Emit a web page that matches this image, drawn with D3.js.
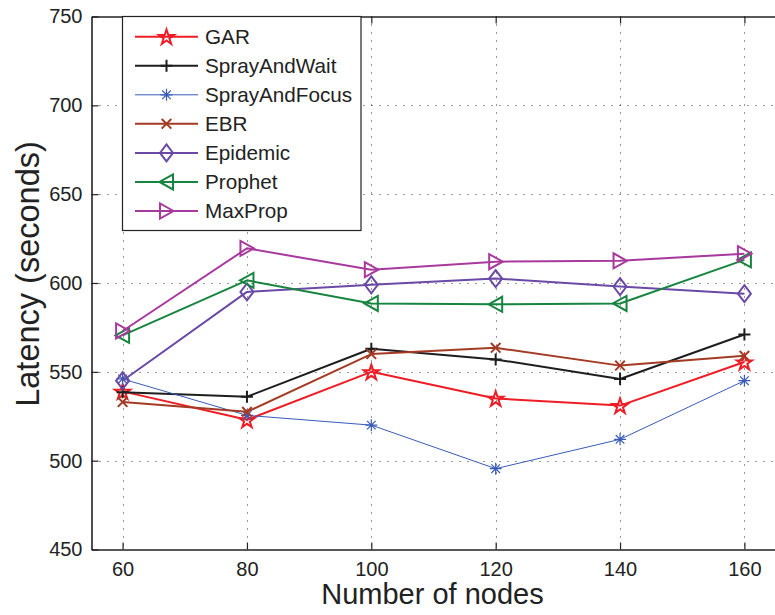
<!DOCTYPE html>
<html>
<head>
<meta charset="utf-8">
<script src="https://cdn.jsdelivr.net/npm/d3@7/dist/d3.min.js"></script>
<style>
  html, body { margin: 0; padding: 0; background: #fff; }
  svg { display: block; font-family: "Liberation Sans", Arial, Helvetica, sans-serif; }
</style>
</head>
<body>
<svg id="chart" width="775" height="615"></svg>
<script>
// Number of nodes on the x axis
const nodes = [60, 80, 100, 120, 140, 160];

// Latency (seconds) per routing protocol
const gar           = [539, 523, 550, 535, 531, 555.5];
const sprayAndWait  = [538.5, 536, 563, 557, 546, 571];
const sprayAndFocus = [546, 525.5, 520, 495.5, 512, 545];
const ebr           = [533, 527.5, 560, 563.5, 553.5, 559];
const epidemic      = [545, 595, 599, 602.5, 598, 594];
const prophet       = [570.5, 601.5, 588.5, 588, 588.5, 613];
const maxProp       = [573, 619.5, 607.5, 612, 612.5, 616.5];

const seriesNames = ["GAR", "SprayAndWait", "SprayAndFocus", "EBR", "Epidemic", "Prophet", "MaxProp"];
const seriesValues = [gar, sprayAndWait, sprayAndFocus, ebr, epidemic, prophet, maxProp];

const xTicks = [60, 80, 100, 120, 140, 160];
const yTicks = [450, 500, 550, 600, 650, 700, 750];

const styles = [
  { color: "#ee1c24", width: 2, marker: "star" },
  { color: "#1e1e1e", width: 2, marker: "plus" },
  { color: "#3a5cb8", width: 1, marker: "asterisk" },
  { color: "#a33b24", width: 2, marker: "cross" },
  { color: "#6a4aa6", width: 2, marker: "diamond" },
  { color: "#17853f", width: 2, marker: "triLeft" },
  { color: "#a83a9e", width: 2, marker: "triRight" }
];

const series = seriesNames.map((name, i) => ({
  name,
  values: nodes.map((n, j) => ({ x: n, y: seriesValues[i][j] })),
  ...styles[i]
}));

const svg = d3.select("#chart");
const plot = { left: 91.5, right: 775.5, top: 16.5, bottom: 549.5 };

const x = d3.scaleLinear().domain([55, 165]).range([plot.left, plot.right]);
const y = d3.scaleLinear().domain([450, 750]).range([plot.bottom, plot.top]);

const ink = "#222";

// dotted grid
const grid = svg.append("g").attr("stroke", "#333").attr("stroke-width", 1)
  .attr("stroke-dasharray", "1,7");
grid.selectAll("line.vx").data(xTicks).join("line")
  .attr("x1", d => Math.round(x(d)) + 0.5).attr("x2", d => Math.round(x(d)) + 0.5)
  .attr("y1", plot.top).attr("y2", plot.bottom);
grid.selectAll("line.hy").data(yTicks.slice(1, -1)).join("line")
  .attr("y1", d => Math.round(y(d)) + 0.5).attr("y2", d => Math.round(y(d)) + 0.5)
  .attr("x1", plot.left).attr("x2", plot.right);

// axes with inward ticks
const tickLen = 7;
const xAxis = d3.axisBottom(x).tickValues(xTicks).tickSizeInner(-tickLen).tickSizeOuter(0).tickPadding(12);
const yAxis = d3.axisLeft(y).tickValues(yTicks).tickSizeInner(-tickLen).tickSizeOuter(0).tickPadding(9);

const gx = svg.append("g").attr("transform", `translate(0,${plot.bottom})`).call(xAxis);
const gy = svg.append("g").attr("transform", `translate(${plot.left},0)`).call(yAxis);
const gxTop = svg.append("g").attr("transform", `translate(0,${plot.top})`)
  .call(d3.axisTop(x).tickValues(xTicks).tickSizeInner(-tickLen).tickSizeOuter(0).tickFormat(""));

[gx, gy, gxTop].forEach(g => {
  g.select(".domain").attr("stroke", ink).attr("stroke-width", 1.6);
  g.selectAll(".tick line").attr("stroke", ink).attr("stroke-width", 1.2);
  g.selectAll(".tick text").attr("fill", ink).style("font-size", "20px")
    .style("font-family", "'Liberation Sans', Arial, sans-serif");
});
gx.selectAll(".tick text").attr("dy", "0.71em");

// axis titles
svg.append("text")
  .attr("x", (plot.left + plot.right) / 2 - 1).attr("y", 604)
  .attr("text-anchor", "middle").attr("fill", ink).style("font-size", "29px")
  .text("Number of nodes");
svg.append("text")
  .attr("transform", `translate(39,${274}) rotate(-90)`)
  .attr("text-anchor", "middle").attr("fill", ink).style("font-size", "32.5px")
  .text("Latency (seconds)");

// marker shapes
function markerPath(type) {
  switch (type) {
    case "star": {
      const R = 8, r = R * 0.382, pts = [];
      for (let k = 0; k < 10; k++) {
        const a = -Math.PI / 2 + k * Math.PI / 5;
        const rad = k % 2 === 0 ? R : r;
        pts.push([rad * Math.cos(a), rad * Math.sin(a) + 0.8]);
      }
      return "M" + pts.map(p => p.join(",")).join("L") + "Z";
    }
    case "plus": return "M-6,0H6M0,-6V6";
    case "asterisk": return "M-6,0H6M0,-6V6M-4.3,-4.3L4.3,4.3M-4.3,4.3L4.3,-4.3";
    case "cross": return "M-4.8,-4.8L4.8,4.8M-4.8,4.8L4.8,-4.8";
    case "diamond": return "M0,-8.5L6.5,0L0,8.5L-6.5,0Z";
    case "triLeft": return "M-7,0L6.5,-7.5L6.5,7.5Z";
    case "triRight": return "M7,0L-6.5,-7.5L-6.5,7.5Z";
  }
}

const line = d3.line().x(d => x(d.x)).y(d => y(d.y));

const gs = svg.append("g").selectAll("g").data(series).join("g");
gs.append("path")
  .attr("d", d => line(d.values))
  .attr("fill", "none").attr("stroke", d => d.color).attr("stroke-width", d => d.width)
  .attr("stroke-linejoin", "round");
gs.each(function (s) {
  d3.select(this).selectAll("path.m").data(s.values).join("path")
    .attr("class", "m")
    .attr("transform", d => `translate(${x(d.x)},${y(d.y)})`)
    .attr("d", markerPath(s.marker))
    .attr("fill", "none").attr("stroke", s.color).attr("stroke-width", s.width === 1 ? 1.2 : 2);
});

// legend
const lg = svg.append("g");
lg.append("rect")
  .attr("x", 122.5).attr("y", 16.5).attr("width", 238.5).attr("height", 214)
  .attr("fill", "#fff").attr("stroke", ink).attr("stroke-width", 1.2);
const rowY = i => 36.7 + i * 29.05;
const items = lg.selectAll("g.item").data(series).join("g")
  .attr("class", "item").attr("transform", (d, i) => `translate(0,${rowY(i)})`);
items.append("line").attr("x1", 135).attr("x2", 198).attr("y1", 0).attr("y2", 0)
  .attr("stroke", d => d.color).attr("stroke-width", d => d.width);
items.append("path").attr("transform", "translate(166.5,0)")
  .attr("d", d => markerPath(d.marker))
  .attr("fill", "none").attr("stroke", d => d.color).attr("stroke-width", d => d.width === 1 ? 1.2 : 2);
items.append("text").attr("x", 205).attr("y", 0).attr("dy", "0.36em")
  .attr("fill", ink).style("font-size", "20.7px").text(d => d.name);
</script>
</body>
</html>
